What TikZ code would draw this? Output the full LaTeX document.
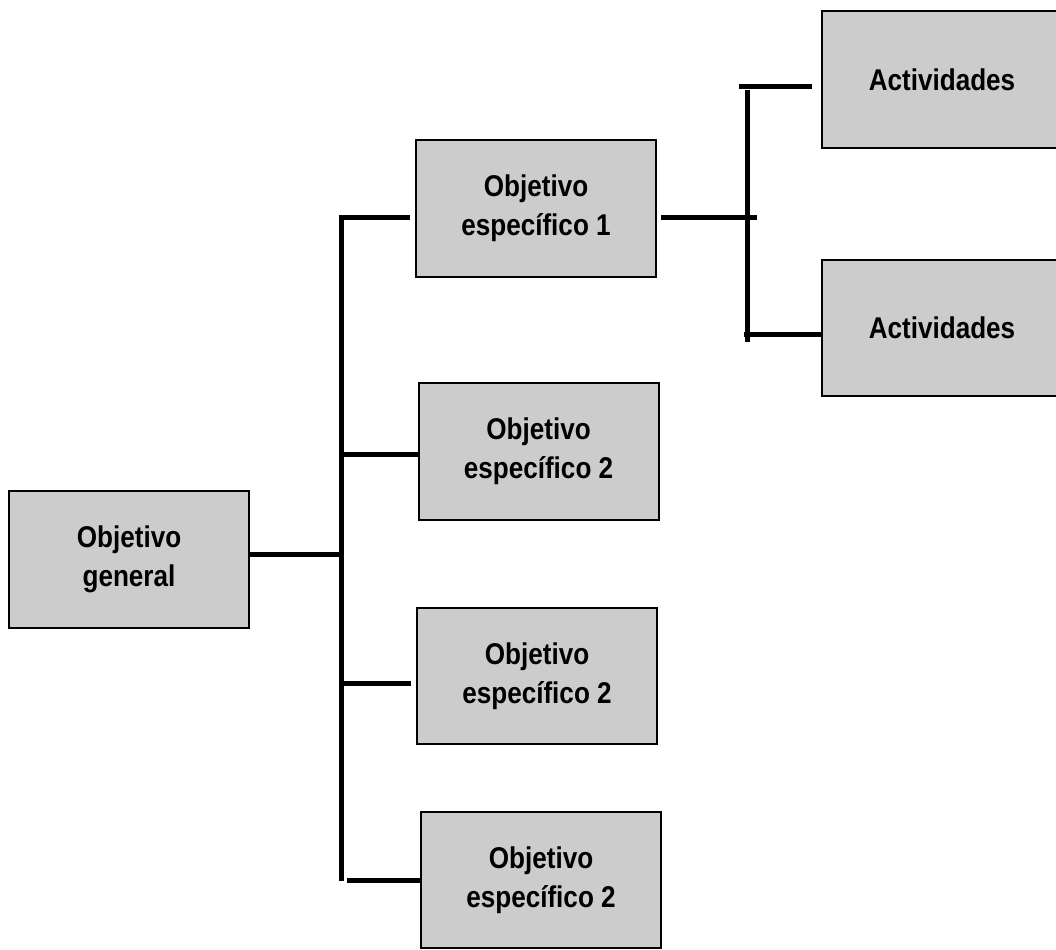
\documentclass[tikz,border=0pt]{standalone}
\usepackage{fontspec}
\setmainfont{Liberation Sans}[FakeStretch=0.87]
\begin{document}
\begin{tikzpicture}[x=0.75pt,y=-0.75pt,
	caja/.style={draw=black,line width=1.5pt,fill=gray!40,minimum width=180pt,minimum height=102.5pt,
		inner sep=0pt,align=center,font=\fontsize{22.5}{29.25}\selectfont\bfseries},
	enlace/.style={line width=3.75pt}]
			\useasboundingbox (0,0) rectangle (1056,949);
			% cajas
			\node[caja] (gen) at (129,559.5) {Objetivo\\general};
			\node[caja] (oe1) at (536,208.5) {Objetivo\\específico 1};
			\node[caja] (oe2) at (538.5,451.5) {Objetivo\\específico 2};
			\node[caja] (oe3) at (537,676) {Objetivo\\específico 2};
			\node[caja] (oe4) at (541,880) {Objetivo\\específico 2};
			\node[caja] (act1) at (942,79.5) {Actividades};
			\node[caja] (act2) at (942,328) {Actividades};
			% tronco principal
			\coordinate (t1a) at (341,215);
			\coordinate (t1b) at (341,881);
			\draw[enlace] (t1a) -- (t1b);
			\draw[enlace] ([yshift=3.4pt]gen.east) -- ++(94,0);
			\draw[enlace] ([xshift=-3.75pt,yshift=-6.4pt]oe1.west) -- ++(-71,0);
			\draw[enlace] ([yshift=-2.6pt]oe2.west) -- ++(-77,0);
			\draw[enlace] ([xshift=-3.75pt,yshift=-5.25pt]oe3.west) -- ++(-70,0);
			\draw[enlace] (oe4.west) -- ++(-73,0);
			% tronco actividades
			\coordinate (t2a) at (747,90);
			\coordinate (t2b) at (747,342);
			\draw[enlace] (t2a) -- (t2b);
			\draw[enlace] ([xshift=3pt,yshift=-6.4pt]oe1.east) -- ++(96,0);
			\draw[enlace] ([xshift=-6.75pt,yshift=-4.9pt]act1.west) -- ++(-73,0);
			\draw[enlace] ([yshift=-4.5pt]act2.west) -- ++(-77,0);
	\end{tikzpicture}
\end{document}
